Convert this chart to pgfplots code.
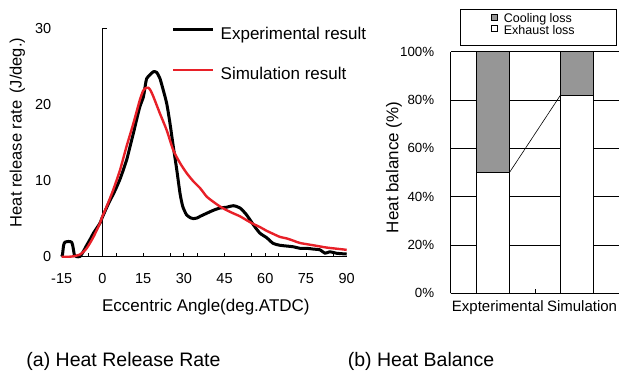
\documentclass[border=0pt]{standalone}
\usepackage{fontspec}
\setmainfont{Liberation Sans}
\usepackage{pgfplots}
\pgfplotsset{compat=1.18}
\definecolor{simred}{RGB}{232,32,40}
\definecolor{coolgray}{RGB}{150,150,150}
\begin{document}
\begin{tikzpicture}
\useasboundingbox (0,0) rectangle (619bp,379bp);

% ---------- (a) Heat release rate ----------
\begin{axis}[
  at={(61.7bp,122.3bp)}, anchor=south west,
  scale only axis, width=285bp, height=228.4bp,
  xmin=-15, xmax=90, ymin=0, ymax=30,
  clip=false,
  axis x line*=bottom, axis y line*=left,
  y axis line style={draw=none},
  x axis line style={line width=0.8bp},
  xtick={-15,0,15,30,45,60,75,90},
  ytick={0,10,20,30},
  major tick length=0pt,
  extra x ticks={-5,5,15,25,30,35,45,55,60,65,75,85},
  extra x tick labels={},
  extra x tick style={major tick length=4bp, tick align=inside, tick style={line width=0.7bp, black}},
  tick label style={font=\fontsize{14.5bp}{17bp}\selectfont, /pgf/number format/assume math mode=true},
  xticklabel style={yshift=-13.5bp},
  yticklabel style={xshift=-6.9bp},
  every axis x label/.style={at={(axis description cs:0.506,-0.242)}, anchor=base, font=\fontsize{17bp}{20bp}\selectfont},
  every axis y label/.style={at={(axis description cs:-0.1404,0.5438)}, anchor=base, rotate=90, font=\fontsize{16.5bp}{20bp}\selectfont},
  xlabel={Eccentric Angle(deg.ATDC)},
  ylabel={Heat release rate\hspace{7bp}(J/deg.)},
  legend cell align=left,
  legend image code/.code={\draw[#1,line cap=butt] (0bp,6bp) -- (40bp,6bp);},
  legend style={draw=none, fill=none, inner sep=0pt, outer sep=0pt,
    at={(axis description cs:0.386,1.0044)}, anchor=north west,
    font=\fontsize{17bp}{20bp}\selectfont,
    nodes={inner sep=0pt, text height=12bp, text depth=4bp},
    row sep=24.7bp, column sep=6bp},
]
\draw[line width=0.8bp] (axis cs:0,0) -- (axis cs:0,30) -- (axis cs:1.6,30);
\addplot[black, line width=3bp, smooth, tension=0.4, line join=round] coordinates {
(-15,0) (-14.7,0.3) (-14.3,1.5) (-13.8,1.9) (-12.5,2.0) (-11.3,1.9) (-10.8,1.2) (-10.3,0.2)
(-9.5,0) (-8.2,0.05) (-7,0.7) (-5.8,1.5) (-4.5,2.3) (-3.3,3.1) (-2,3.8) (-0.9,4.4) (0,5.2)
(1.5,6.4) (2.8,7.4) (4,8.2) (5.3,9.2) (6.5,10.2) (7.7,11.4) (9,12.8) (10.2,14.5) (11.4,16.2)
(12.6,18.0) (13.8,19.7) (15.1,21.0) (15.8,22.5) (16.3,23.4) (17.5,23.9) (18.8,24.3) (20,24.2)
(21.2,23.4) (22.4,21.9) (23.7,20.1) (24.9,17.5) (26.1,14.5) (27.4,11.4) (28.6,8.3) (29.6,6.6)
(31,5.5) (32.5,5.1) (33.5,5.0) (35,5.1) (36,5.3) (38.4,5.7) (40.9,6.1) (43.3,6.4) (45.8,6.5)
(48.2,6.7) (50.7,6.4) (53.1,5.5) (55.6,4.2) (58,3.1) (60.5,2.5) (62.9,1.75) (65.4,1.5)
(67.9,1.4) (70.4,1.3) (72.8,1.1) (75.3,1.1) (77.7,1.0) (80.2,0.9) (82,0.45) (83.8,0.65)
(86.3,0.45) (90,0.35)};
\addlegendentry{Experimental result}
\addplot[simred, line width=2.4bp, smooth, tension=0.4, line join=round] coordinates {
(-15,0) (-12,0) (-10.7,0.05) (-8.2,0.3) (-5.8,1.1) (-3.3,2.6) (-0.9,4.4) (0,5.3) (1.6,6.6)
(4,8.8) (6.5,11.4) (8.9,14.5) (11.4,17.5) (13.8,20.6) (15,21.8) (15.7,22.1) (16.9,22.2)
(17.8,21.8) (18.8,21.0) (21.2,18.8) (23.7,16.6) (26.1,14.0) (28.6,12.3) (31,11.0) (33.5,9.9)
(36,9.0) (38.4,7.9) (40.9,7.2) (43.3,6.6) (45.8,6.1) (48.2,5.7) (50.7,5.3) (53.1,4.8)
(55.6,4.3) (58,3.9) (60.5,3.4) (62.9,3.0) (65.4,2.6) (67.9,2.4) (70.4,2.1) (72.8,1.8)
(77.7,1.5) (82.6,1.2) (86.3,1.05) (90,0.9)};
\addlegendentry{Simulation result}
\end{axis}

% ---------- (b) Heat balance ----------
\begin{axis}[
  at={(450.7bp,85.7bp)}, anchor=south west,
  scale only axis, width=168.5bp, height=241.6bp,
  xmin=0, xmax=2, ymin=0, ymax=100,
  clip=false,
  ybar stacked, bar width=0.395,
  axis x line*=bottom, axis y line*=left,
  axis line style={line width=0.8bp},
  xtick={0.5,1.5}, xticklabels={Expterimental, Simulation},
  ytick={0,20,40,60,80,100}, yticklabels={0\%,20\%,40\%,60\%,80\%,100\%},
  ymajorgrids, grid style={black, line width=0.6bp},
  major tick length=0pt,
  extra x ticks={1}, extra x tick labels={},
  extra x tick style={major tick length=4bp, tick align=inside, grid=none, tick style={black, line width=0.6bp}},
  xticklabel style={font=\fontsize{15bp}{17bp}\selectfont, yshift=-3.5bp, xshift=5bp},
  yticklabel style={font=\fontsize{13.3bp}{16bp}\selectfont, xshift=-13bp},
  every axis y label/.style={at={(axis description cs:-0.311,0.5207)}, anchor=base, rotate=90, font=\fontsize{17bp}{20bp}\selectfont},
  ylabel={Heat balance (\%)},
  legend cell align=left,
  reverse legend,
  legend style={draw=none, fill=none, inner sep=0pt, outer sep=0pt,
    at={(axis description cs:0.239,1.1569)}, anchor=north west,
    font=\fontsize{12.5bp}{14bp}\selectfont,
    nodes={inner sep=0pt, text height=8.8bp, text depth=2.4bp},
    row sep=0bp, column sep=6.3bp},
  sqlegend/.style={legend image code/.code={\draw[##1, line width=0.6bp] (0bp,-0.3bp) rectangle (6bp,5.7bp);}},
]
\addplot[fill=white, draw=black, line width=0.6bp, sqlegend] coordinates {(0.5,50) (1.5,82)};
\addplot[fill=coolgray, draw=black, line width=0.6bp, sqlegend] coordinates {(0.5,50) (1.5,18)};
\legend{Exhaust loss, Cooling loss}
\draw[line width=0.6bp] (rel axis cs:0.0552,1.0248) rectangle (rel axis cs:0.985,1.1755);
\end{axis}
\begin{axis}[
  at={(450.7bp,85.7bp)}, anchor=south west,
  scale only axis, width=168.5bp, height=241.6bp,
  xmin=0, xmax=2, ymin=0, ymax=100, hide axis,
]
\addplot[black, line width=0.6bp] coordinates {(0.6975,50) (1.3025,82)};
\end{axis}

\node[anchor=base, font=\fontsize{19.5bp}{22bp}\selectfont] at (123.5bp,12.3bp) {(a) Heat Release Rate};
\node[anchor=base, font=\fontsize{19.5bp}{22bp}\selectfont] at (421bp,12.3bp) {(b) Heat Balance};
\end{tikzpicture}
\end{document}
